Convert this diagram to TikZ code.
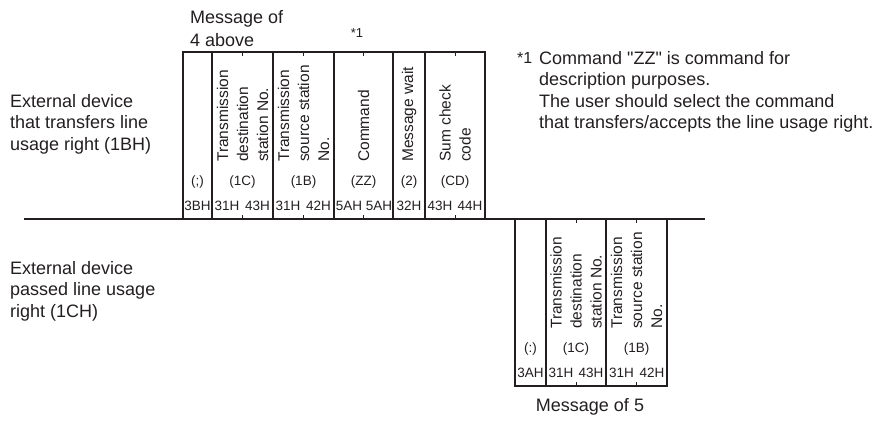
\documentclass[tikz,border=0pt]{standalone}
\usepackage{fontspec}
\setmainfont{Liberation Sans}
\begin{document}
\begin{tikzpicture}[x=1pt, y=-1pt]
    \def\frameTop{52}
    \def\lineY{219}
    \def\frameBot{386}

    \definecolor{lineColour}{HTML}{231F20}

    \tikzset{
        frame/.style={draw=lineColour, line width=1.5pt},
        tick/.style={draw=lineColour, line width=1pt},
        label/.style={font=\fontsize{18}{21.5}\selectfont, text=lineColour, align=left, inner sep=0pt, anchor=west},
        field/.style={font=\fontsize{15.5}{20}\selectfont, text=lineColour, align=left, inner sep=0pt, rotate=90, anchor=west},
        code/.style={font=\fontsize{13.5}{16}\selectfont, text=lineColour, inner sep=0pt}
    }

    \useasboundingbox (0,0) rectangle (888,420);

    % Draw line of the transmission
    \draw[frame] (24,\lineY) -- (705,\lineY);

    % Draw frame of message 4
    \draw[frame] (183,\lineY) -- (183,\frameTop) -- (485,\frameTop) -- (485,\lineY);
    \foreach \x in {212,273,334,393,425}
        \draw[frame] (\x,\frameTop) -- (\x,\lineY);
    \foreach \x in {242.5,303.5,363.5,455} {
        \draw[tick] (\x,\frameTop) -- ++(0,4);
        \draw[tick] (\x,\lineY) -- ++(0,-4);
    }

    % Draw frame of message 5
    \draw[frame] (515,\lineY) -- (515,\frameBot) -- (667,\frameBot) -- (667,\lineY);
    \draw[frame] (546,\lineY) -- (546,\frameBot);
    \draw[frame] (606,\lineY) -- (606,\frameBot);
    \foreach \x in {576,636.5} {
        \draw[tick] (\x,\lineY) -- ++(0,4);
        \draw[tick] (\x,\frameBot) -- ++(0,-4);
    }

    % Field names of message 4
    \node[field] (dstA) at (242.5,162) {Transmission\\destination\\station No.};
    \node[field] (srcA) at (303.5,162) {Transmission\\source station\\No.};
    \node[field] (cmdA) at (363.5,162) {Command};
    \node[field] (waitA) at (409,162) {Message wait};
    \node[field] (sumA) at (455,162) {Sum check\\code};

    % Field names of message 5
    \node[field] (dstB) at (576,329) {Transmission\\destination\\station No.};
    \node[field] (srcB) at (636.5,329) {Transmission\\source station\\No.};

    % Data of message 4
    \foreach \x/\val [count=\i] in {197.5/(;), 242.5/(1C), 303.5/(1B), 363.5/(ZZ), 409/(2), 455/(CD)}
        \node[code] (charA-\i) at (\x,182) {\val};
    \foreach \x/\val [count=\i] in {197.5/3BH, 227/31H, 257.5/43H, 288/31H, 318.5/42H, 349/5AH, 379/5AH, 409/32H, 440/43H, 470/44H}
        \node[code] (hexA-\i) at (\x,206) {\val};

    % Data of message 5
    \foreach \x/\val [count=\i] in {530.5/(:), 576/(1C), 636.5/(1B)}
        \node[code] (charB-\i) at (\x,349) {\val};
    \foreach \x/\val [count=\i] in {530.5/3AH, 561/31H, 591/43H, 621.5/31H, 652/42H}
        \node[code] (hexB-\i) at (\x,373) {\val};

    % Labels
    \node[label, font=\fontsize{18}{23}\selectfont] (msgFour) at (190,29) {Message of\\4 above};
    \node[code, font=\fontsize{13}{15}\selectfont] (starCmd) at (357,33) {*1};
    \node[label, anchor=center] (msgFive) at (590,407) {Message of 5};
    \node[label] (deviceA) at (10,124) {External device\\that transfers line\\usage right (1BH)};
    \node[label] (deviceB) at (10,291) {External device\\passed line usage\\right (1CH)};

    % Note *1
    \node[label, font=\fontsize{16}{21.5}\selectfont] (starNote) at (517,58) {*1};
    \node[label, anchor=north west] (note) at (539,51) {Command \textquotedbl ZZ\textquotedbl{} is command for\\description purposes.\\The user should select the command\\that transfers/accepts the line usage right.};

\end{tikzpicture}
\end{document}
